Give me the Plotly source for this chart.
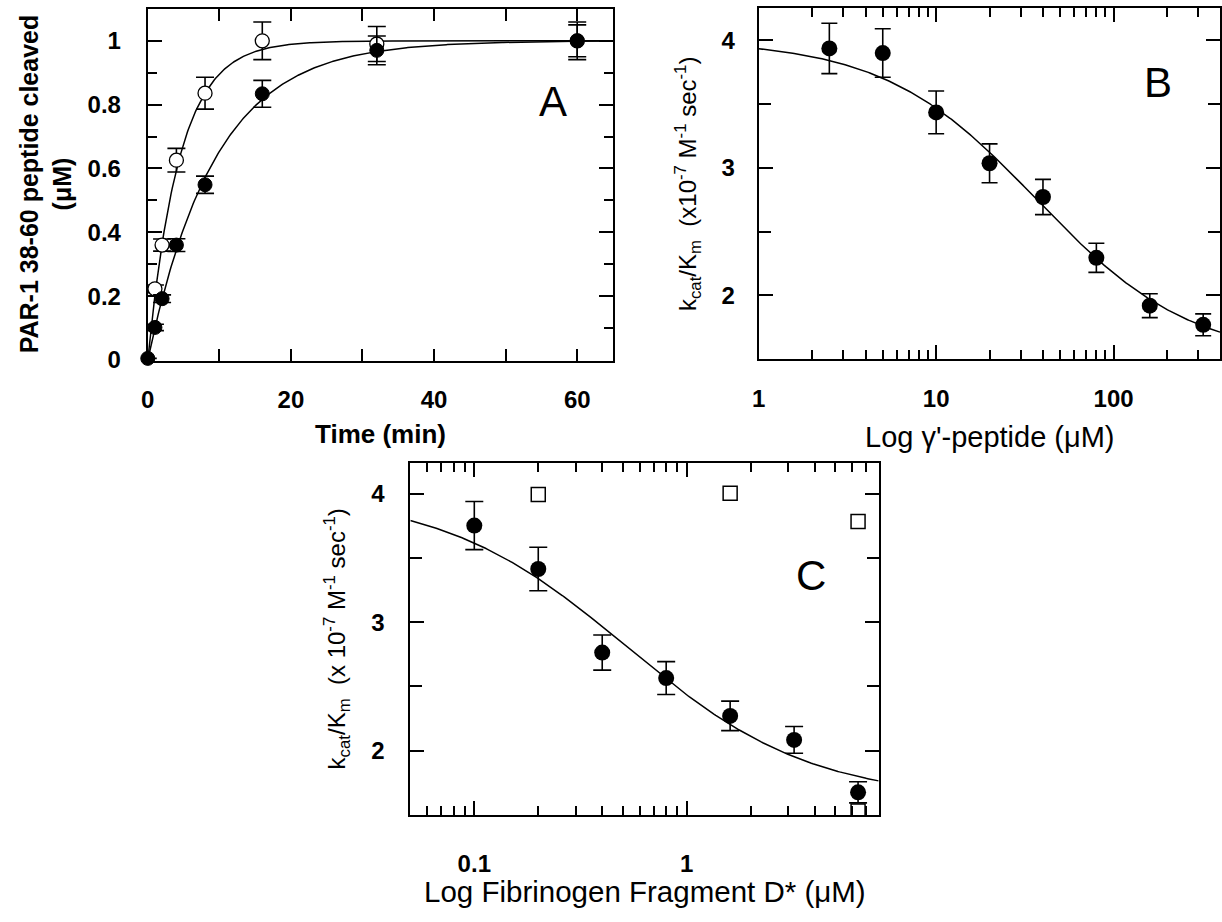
import numpy as np
import plotly.graph_objects as go

W, H = 1222, 922

# ---------------- Panel A data ----------------
a_time = [0, 1, 2, 4, 8, 16, 32, 60]
a_open = [0.005, 0.223, 0.36, 0.626, 0.836, 1.0, 0.99, 1.0]
a_open_err = [0.0, 0.012, 0.019, 0.037, 0.05, 0.059, 0.055, 0.059]
a_filled = [0.005, 0.102, 0.192, 0.36, 0.549, 0.834, 0.970, 1.0]
a_filled_err = [0.0, 0.01, 0.012, 0.02, 0.027, 0.042, 0.045, 0.05]
a_k_open = 0.226      # first-order rate constants of the fitted curves
a_k_filled = 0.106

# ---------------- Panel B data ----------------
b_conc = [2.5, 5, 10, 20, 40, 80, 160, 320]
b_kcat = [3.936, 3.90, 3.435, 3.036, 2.772, 2.295, 1.92, 1.77]
b_err = [0.197, 0.19, 0.168, 0.152, 0.138, 0.114, 0.094, 0.086]
b_fit_top, b_fit_bottom, b_fit_ic50 = 4.0, 1.5, 37.0

# ---------------- Panel C data ----------------
c_conc = [0.1, 0.2, 0.4, 0.8, 1.6, 3.2, 6.4]
c_kcat = [3.752, 3.414, 2.764, 2.565, 2.271, 2.084, 1.676]
c_err = [0.187, 0.169, 0.137, 0.128, 0.115, 0.104, 0.082]
c_sq_conc = [0.2, 1.6, 6.4, 6.4]
c_sq_kcat = [3.995, 4.003, 3.783, 1.53]
c_fit_top, c_fit_bottom, c_fit_ic50 = 4.0, 1.62, 0.52


def px_x(x):
    return x / W


def px_y(y):
    return 1 - y / H


fig = go.Figure()

# --- Panel A fitted curves ---
t = np.linspace(0, 65, 400)
for k in (a_k_open, a_k_filled):
    fig.add_trace(go.Scatter(x=t, y=1 - np.exp(-k * t), mode="lines",
                             line=dict(color="black", width=1.5),
                             xaxis="x", yaxis="y", showlegend=False, hoverinfo="skip"))

fig.add_trace(go.Scatter(
    x=a_time[1:], y=a_open[1:], mode="markers",
    marker=dict(symbol="circle", size=14, color="white", line=dict(color="black", width=1.3)),
    error_y=dict(type="data", array=a_open_err[1:], color="black", thickness=1.6, width=9),
    xaxis="x", yaxis="y", showlegend=False, cliponaxis=False))
fig.add_trace(go.Scatter(
    x=a_time, y=a_filled, mode="markers",
    marker=dict(symbol="circle", size=14, color="black", line=dict(color="black", width=1)),
    error_y=dict(type="data", array=a_filled_err, color="black", thickness=1.6, width=9),
    xaxis="x", yaxis="y", showlegend=False, cliponaxis=False))

# --- Panel B ---
bx = np.logspace(0, 2.6, 300)
fig.add_trace(go.Scatter(x=bx, y=b_fit_bottom + (b_fit_top - b_fit_bottom) / (1 + bx / b_fit_ic50),
                         mode="lines", line=dict(color="black", width=1.5),
                         xaxis="x2", yaxis="y2", showlegend=False, hoverinfo="skip"))
fig.add_trace(go.Scatter(
    x=b_conc, y=b_kcat, mode="markers",
    marker=dict(symbol="circle", size=16, color="black"),
    error_y=dict(type="data", array=b_err, color="black", thickness=1.6, width=8),
    xaxis="x2", yaxis="y2", showlegend=False, cliponaxis=False))

# --- Panel C ---
cx = np.logspace(np.log10(0.05), np.log10(8), 300)
fig.add_trace(go.Scatter(x=cx, y=c_fit_bottom + (c_fit_top - c_fit_bottom) / (1 + cx / c_fit_ic50),
                         mode="lines", line=dict(color="black", width=1.5),
                         xaxis="x3", yaxis="y3", showlegend=False, hoverinfo="skip"))
fig.add_trace(go.Scatter(
    x=c_sq_conc, y=c_sq_kcat, mode="markers",
    marker=dict(symbol="square", size=14, color="white", line=dict(color="black", width=1.5)),
    xaxis="x3", yaxis="y3", showlegend=False))
fig.add_trace(go.Scatter(
    x=c_conc, y=c_kcat, mode="markers",
    marker=dict(symbol="circle", size=16, color="black"),
    error_y=dict(type="data", array=c_err, color="black", thickness=1.6, width=9),
    xaxis="x3", yaxis="y3", showlegend=False, cliponaxis=False))


def tfont():
    return dict(family="Liberation Sans, Arial, sans-serif", size=24, color="black", weight="bold")


def axis_common():
    return dict(showgrid=False, zeroline=False, showline=True, linewidth=2, linecolor="black",
                mirror="ticks", ticks="inside", tickwidth=1.5, tickcolor="black",
                tickfont=tfont(), fixedrange=True)


fig.update_layout(
    width=W, height=H, autosize=False,
    margin=dict(l=0, r=0, t=0, b=0),
    paper_bgcolor="white", plot_bgcolor="white",
    font=dict(family="Liberation Sans, Arial, sans-serif", color="black", size=24),
    xaxis=dict(axis_common(), domain=[px_x(141.7), px_x(610)], range=[0, 65], dtick=20, tick0=0,
               ticklen=12, anchor="y", ticklabelstandoff=16,
               minor=dict(dtick=10, ticks="inside", ticklen=12, tickwidth=1.5, tickcolor="black")),
    yaxis=dict(axis_common(), domain=[px_y(365.7), px_y(9)], range=[-0.003, 1.1], dtick=0.2, tick0=0,
               ticklen=14, anchor="x", ticklabelstandoff=20,
               minor=dict(dtick=0.1, ticks="inside", ticklen=9, tickwidth=1.5, tickcolor="black")),
    xaxis2=dict(axis_common(), type="log", domain=[px_x(756.7), px_x(1221)], range=[0, 2.6],
                tickvals=[1, 10, 100], ticktext=["1", "10", "100"], ticklen=14, anchor="y2",
                ticklabelstandoff=17,
                minor=dict(tickmode="array",
                           tickvals=[2, 3, 4, 5, 6, 7, 8, 9, 20, 30, 40, 50, 60, 70, 80, 90, 200, 300],
                           ticks="inside", ticklen=9, tickwidth=1.5, tickcolor="black")),
    yaxis2=dict(axis_common(), domain=[px_y(364), px_y(8.5)], range=[1.5, 4.25], dtick=1, tick0=0,
                ticklen=14, anchor="x2", ticklabelstandoff=17,
                minor=dict(dtick=0.5, ticks="inside", ticklen=12, tickwidth=1.5, tickcolor="black")),
    xaxis3=dict(axis_common(), type="log", domain=[px_x(406), px_x(877.4)],
                range=[np.log10(0.05), np.log10(8)],
                tickvals=[0.1, 1], ticktext=["0.1", "1"], ticklen=14, anchor="y3",
                ticklabelstandoff=26,
                minor=dict(tickmode="array",
                           tickvals=[0.06, 0.07, 0.08, 0.09, 0.2, 0.3, 0.4, 0.5, 0.6, 0.7, 0.8, 0.9,
                                     2, 3, 4, 5, 6, 7, 8],
                           ticks="inside", ticklen=9, tickwidth=1.5, tickcolor="black")),
    yaxis3=dict(axis_common(), domain=[px_y(825.7), px_y(469)], range=[1.5, 4.24], dtick=1, tick0=0,
                ticklen=14, anchor="x3", ticklabelstandoff=19,
                minor=dict(dtick=0.5, ticks="inside", ticklen=12, tickwidth=1.5, tickcolor="black")),
)

title_font = "Liberation Sans, Arial, sans-serif"
annots = [
    dict(text="<b>Time (min)</b>", x=376, y=440, size=26, angle=0),
    dict(text="<b>PAR-1 38-60 peptide cleaved<br>(μM)</b>", x=39, y=186, size=25, angle=-90),
    dict(text="Log γ'-peptide (μM)", x=989, y=443, size=29, angle=0),
    dict(text="k<sub>cat</sub>/K<sub>m</sub>  (x10<sup>-7</sup> M<sup>-1</sup> sec<sup>-1</sup>)",
         x=685, y=186, size=24, angle=-90),
    dict(text="Log Fibrinogen Fragment D* (μM)", x=642, y=903, size=29.5, angle=0),
    dict(text="k<sub>cat</sub>/K<sub>m</sub>  (x 10<sup>-7</sup> M<sup>-1</sup> sec<sup>-1</sup>)",
         x=332, y=647, size=24, angle=-90),
    dict(text="A", x=550, y=103, size=42, angle=0),
    dict(text="B", x=1159, y=84, size=42, angle=0),
    dict(text="C", x=809, y=583, size=42, angle=0),
]
for a in annots:
    fig.add_annotation(text=a["text"], x=px_x(a["x"]), y=px_y(a["y"]), xref="paper", yref="paper",
                       xanchor="center", yanchor="middle", showarrow=False, textangle=a["angle"],
                       font=dict(family=title_font, size=a["size"], color="black"))

fig.write_html("out.html")
